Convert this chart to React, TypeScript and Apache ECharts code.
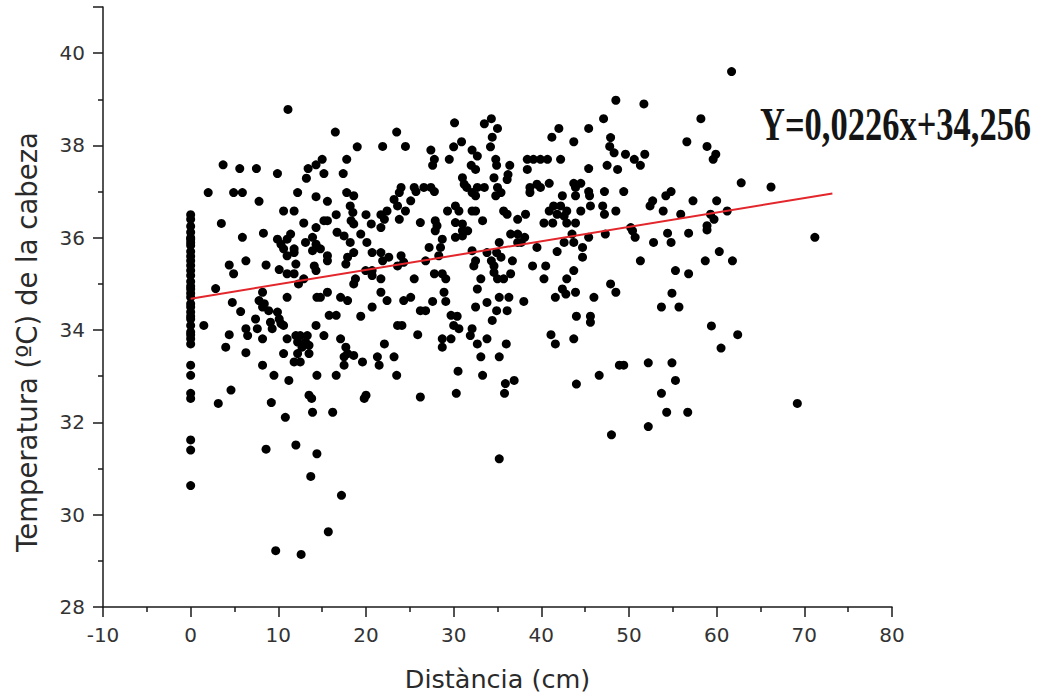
import React, { useEffect, useRef } from "react";
import * as echarts from "echarts";

// Temperatures recorded at distance 0 cm
const tempsAtZero: number[] = [
  36.5, 36.4, 36.25, 36.12, 36.0, 35.97, 35.9, 35.83, 35.7, 35.6, 35.5, 35.4, 35.29, 35.18, 35.05,
  34.95, 34.89, 34.8, 34.71, 34.57, 34.5, 34.39, 34.3, 34.24, 34.1, 33.96, 33.9, 33.81, 33.7,
  33.24, 33.02, 32.63, 32.52, 31.62, 31.4, 30.63,
];

// [distance, temperature] pairs by distance band
const band0to10: [number, number][] = [
  [1.5, 34.1], [2.0, 36.98], [2.85, 34.9], [3.15, 32.41], [3.5, 36.31], [3.7, 37.58], [4.0, 33.63],
  [4.4, 35.41], [4.4, 33.9], [4.6, 32.7], [4.75, 34.6], [4.9, 36.98], [4.9, 35.22], [5.6, 37.5],
  [5.7, 34.4], [5.9, 36.98], [5.9, 36.01], [6.3, 35.5], [6.3, 34.03], [6.3, 33.51], [6.5, 33.88],
  [7.4, 34.24], [7.5, 37.5], [7.6, 34.03], [7.8, 36.79], [7.8, 34.64], [8.2, 34.82], [8.2, 34.5],
  [8.2, 33.81], [8.2, 33.24], [8.3, 36.1], [8.4, 34.57], [8.6, 35.41], [8.6, 31.42], [8.9, 34.42],
  [9.1, 34.17], [9.2, 32.43], [9.3, 34.03], [9.5, 33.02], [9.7, 29.22], [9.9, 37.39], [9.9, 35.97],
  [9.9, 34.39],
];

const band10to20: [number, number][] = [
  [10.1, 35.31], [10.1, 34.24], [10.3, 35.86], [10.3, 34.14], [10.6, 36.58], [10.6, 35.76],
  [10.6, 34.1], [10.6, 33.49], [10.8, 32.11], [11.0, 35.97], [11.0, 35.61], [11.0, 35.22],
  [11.0, 34.71], [11.0, 33.81], [11.1, 38.78], [11.2, 32.91], [11.4, 36.08], [11.8, 36.58],
  [11.8, 35.76], [11.8, 35.68], [11.8, 35.22], [11.8, 33.31], [12.0, 35.43], [12.0, 33.88],
  [12.0, 31.51], [12.2, 36.98], [12.2, 33.74], [12.2, 33.49], [12.3, 35.0], [12.5, 33.88],
  [12.5, 33.31], [12.6, 29.14], [12.7, 33.63], [12.9, 36.32], [12.9, 35.11], [13.1, 35.9],
  [13.1, 33.74], [13.2, 37.29], [13.3, 33.88], [13.4, 37.5], [13.5, 33.67], [13.5, 33.49],
  [13.5, 32.59], [13.7, 30.83], [13.8, 32.52], [13.9, 36.01], [13.9, 35.72], [13.9, 32.22],
  [14.1, 35.39], [14.3, 37.58], [14.3, 36.89], [14.3, 36.22], [14.3, 35.86], [14.3, 35.29],
  [14.3, 34.1], [14.4, 34.71], [14.4, 33.02], [14.4, 31.32], [14.8, 35.76], [14.8, 34.71],
  [15.0, 37.7], [15.2, 37.39], [15.2, 36.37], [15.2, 33.88], [15.6, 36.37], [15.6, 36.79],
  [15.6, 35.61], [15.6, 35.5], [15.6, 34.82], [15.7, 29.63], [15.8, 34.32], [16.2, 32.22],
  [16.5, 38.29], [16.6, 36.5], [16.6, 34.32], [16.6, 33.02], [16.7, 36.12], [17.1, 34.71],
  [17.1, 33.81], [17.2, 30.42], [17.4, 37.39], [17.5, 36.04], [17.5, 33.42], [17.5, 33.24],
  [17.7, 35.43], [17.7, 33.63], [17.8, 37.7], [17.8, 36.98], [17.9, 35.58], [17.9, 34.64],
  [17.9, 33.49], [18.2, 36.69], [18.2, 35.9], [18.3, 36.37], [18.5, 36.55], [18.6, 36.91],
  [18.6, 36.3], [18.6, 35.68], [18.6, 35.0], [18.6, 33.45], [18.8, 35.11], [19.0, 37.97],
  [19.4, 36.08], [19.4, 34.3], [19.6, 33.31], [19.8, 32.52], [19.96, 35.29],
];

const band20to30: [number, number][] = [
  [20.0, 36.5], [20.0, 32.59], [20.1, 35.9], [20.6, 36.3], [20.7, 35.68], [20.7, 35.29],
  [20.7, 35.18], [20.7, 34.5], [21.3, 33.42], [21.5, 33.24], [21.7, 36.5], [21.7, 36.22],
  [21.7, 35.68], [21.7, 35.11], [21.7, 34.82], [21.9, 37.98], [21.9, 35.5], [22.1, 36.4],
  [22.1, 33.7], [22.4, 36.58], [22.4, 34.64], [22.6, 35.58], [23.2, 36.83], [23.2, 33.42],
  [23.5, 38.29], [23.5, 33.02], [23.6, 36.69], [23.6, 35.39], [23.6, 34.1], [23.8, 36.98],
  [23.8, 36.4], [24.0, 37.09], [24.0, 35.61], [24.1, 34.1], [24.3, 35.47], [24.3, 34.64],
  [24.5, 37.98], [24.5, 36.58], [25.1, 36.8], [25.1, 34.71], [25.5, 37.09], [25.5, 35.11],
  [25.7, 37.0], [25.9, 33.9], [26.2, 36.33], [26.2, 34.42], [26.2, 32.55], [26.6, 37.09],
  [26.8, 35.5], [26.8, 34.42], [27.2, 35.79], [27.4, 37.9], [27.4, 37.09], [27.6, 37.57],
  [27.6, 34.62], [27.8, 37.7], [27.8, 37.0], [27.8, 35.22], [27.9, 36.37], [27.9, 36.15],
  [28.1, 36.26], [28.3, 35.61], [28.5, 35.79], [28.7, 35.97], [28.7, 35.22], [28.7, 33.81],
  [28.7, 33.63], [28.9, 34.82], [29.1, 35.11], [29.1, 34.62], [29.3, 36.58], [29.5, 37.7],
  [29.7, 34.32], [29.7, 33.81],
];

const band30to40: [number, number][] = [
  [30.0, 37.97], [30.0, 34.1], [30.1, 38.49], [30.2, 36.69], [30.2, 36.33], [30.2, 36.01],
  [30.3, 32.63], [30.4, 34.3], [30.5, 33.11], [30.6, 36.58], [30.6, 34.03], [30.9, 38.08],
  [31.0, 37.3], [31.0, 36.3], [31.0, 36.04], [31.0, 36.15], [31.2, 37.16], [31.5, 37.09],
  [31.6, 36.15], [31.9, 33.88], [32.0, 37.57], [32.1, 37.9], [32.1, 36.98], [32.1, 36.58],
  [32.1, 35.72], [32.1, 34.03], [32.3, 35.39], [32.5, 37.48], [32.5, 36.91], [32.5, 36.58],
  [32.5, 35.5], [32.5, 34.5], [32.7, 37.77], [32.7, 37.09], [32.7, 34.89], [32.7, 33.7],
  [33.1, 35.11], [33.1, 33.42], [33.3, 36.37], [33.3, 33.02], [33.5, 38.47], [33.5, 37.09],
  [33.8, 35.68], [33.8, 34.6], [33.8, 33.81], [34.2, 37.97], [34.3, 38.58], [34.3, 35.5],
  [34.4, 38.18], [34.4, 34.21], [34.6, 37.3], [34.6, 35.39], [34.6, 35.25], [34.8, 37.7],
  [34.8, 36.91], [34.9, 37.57], [34.9, 35.68], [34.9, 34.42], [35.0, 38.37], [35.0, 37.09],
  [35.0, 35.11], [35.2, 35.9], [35.2, 34.71], [35.2, 33.42], [35.2, 31.21], [35.4, 36.98],
  [35.4, 35.58], [35.7, 36.58], [35.7, 35.11], [35.8, 32.63], [35.9, 32.84], [36.0, 33.7],
  [36.1, 37.26], [36.1, 36.51], [36.1, 34.42], [36.2, 37.37], [36.3, 34.71], [36.4, 37.57],
  [36.5, 36.08], [36.5, 35.22], [36.7, 35.5], [36.9, 32.91], [37.3, 36.4], [37.3, 36.08],
  [37.3, 35.9], [37.7, 35.9], [38.0, 34.62], [38.1, 36.01], [38.2, 36.51], [38.4, 37.7],
  [38.4, 37.48], [38.7, 37.09], [38.7, 36.98], [39.0, 35.39], [39.1, 37.7], [39.5, 37.16],
  [39.5, 35.79], [39.9, 37.7], [39.9, 37.09],
];

const band40to50: [number, number][] = [
  [40.3, 36.32], [40.3, 35.11], [40.5, 35.39], [40.7, 37.7], [40.9, 37.18], [40.9, 36.58],
  [41.1, 33.9], [41.2, 38.18], [41.3, 36.32], [41.4, 36.69], [41.6, 34.71], [41.6, 33.7],
  [41.8, 36.51], [41.8, 35.7], [42.0, 38.37], [42.2, 37.7], [42.2, 36.69], [42.4, 36.91],
  [42.4, 34.89], [42.6, 36.47], [42.6, 35.9], [42.8, 34.78], [42.9, 36.58], [42.9, 36.32],
  [42.9, 35.11], [43.5, 36.08], [43.7, 38.08], [43.7, 37.18], [43.7, 35.9], [43.7, 35.29],
  [43.7, 33.81], [43.9, 37.09], [43.9, 36.91], [43.9, 36.32], [43.9, 34.82], [44.0, 34.3],
  [44.0, 32.83], [44.5, 37.18], [44.5, 36.58], [44.7, 35.79], [44.7, 35.58], [45.4, 38.37],
  [45.4, 37.5], [45.4, 37.0], [45.4, 36.01], [45.5, 36.91], [45.6, 36.69], [45.6, 34.3],
  [45.6, 34.17], [46.0, 34.71], [46.6, 33.02], [47.0, 36.69], [47.1, 38.58], [47.2, 37.0],
  [47.2, 36.51], [47.3, 36.08], [47.5, 37.57], [47.8, 37.98], [47.9, 38.17], [47.9, 35.0],
  [48.0, 31.73], [48.3, 37.84], [48.5, 38.98], [48.5, 36.58], [48.5, 34.82], [48.7, 37.48],
  [48.9, 33.24], [49.4, 37.0], [49.4, 33.24], [49.6, 37.81],
];

const band50plus: [number, number][] = [
  [50.2, 36.22], [50.4, 36.15], [50.6, 37.7], [50.7, 36.01], [51.3, 37.57], [51.3, 35.5],
  [51.7, 38.9], [51.8, 37.81], [52.2, 33.29], [52.2, 31.91], [52.4, 36.69], [52.7, 36.8],
  [52.8, 35.9], [53.7, 34.5], [53.7, 32.63], [53.9, 36.58], [54.2, 36.91], [54.3, 32.22],
  [54.4, 36.1], [54.8, 37.0], [54.8, 35.9], [54.9, 34.8], [54.9, 33.29], [55.3, 35.29],
  [55.3, 32.91], [55.7, 34.5], [55.9, 36.51], [56.6, 38.08], [56.7, 32.22], [56.8, 36.1],
  [56.8, 35.22], [57.3, 36.8], [58.2, 38.58], [58.7, 35.5], [58.9, 37.98], [58.9, 36.26],
  [58.9, 36.17], [59.3, 36.51], [59.4, 34.09], [59.6, 37.7], [59.7, 36.4], [59.9, 37.81],
  [60.0, 36.8], [60.3, 35.7], [60.5, 33.61], [61.2, 36.58], [61.7, 39.6], [61.8, 35.5],
  [62.4, 33.9], [62.8, 37.19], [66.2, 37.1], [69.2, 32.41], [71.2, 36.01],
];

// Fitted line as drawn (start and end)
const fitLine: [number, number][] = [
  [0, 34.68],
  [73.2, 36.96],
];

const equationLabel = "Y=0,0226x+34,256";
const xAxisTitle = "Distància (cm)";
const yAxisTitle = "Temperatura (ºC) de la cabeza";

export default function App() {
  const ref = useRef<HTMLDivElement>(null);
  useEffect(() => {
    if (!ref.current) return;
    const chart = echarts.init(ref.current, undefined, { renderer: "svg" });
    const points: [number, number][] = [
      ...tempsAtZero.map((t) => [0, t] as [number, number]),
      ...band0to10,
      ...band10to20,
      ...band20to30,
      ...band30to40,
      ...band40to50,
      ...band50plus,
    ];
    const font = "DejaVu Sans";
    chart.setOption({
      animation: false,
      backgroundColor: "#ffffff",
      grid: { left: 103, right: 153, top: 7, bottom: 88 },
      xAxis: {
        type: "value",
        min: -10,
        max: 80,
        interval: 10,
        name: xAxisTitle,
        nameLocation: "middle",
        nameGap: 59,
        nameTextStyle: { fontFamily: font, fontSize: 25.5, color: "#2a2a2a" },
        axisLine: { show: true, onZero: false, lineStyle: { color: "#1a1a1a", width: 1.5 } },
        axisTick: { show: true, length: 10, lineStyle: { color: "#1a1a1a", width: 1.5 } },
        minorTick: { show: true, splitNumber: 2, length: 5, lineStyle: { color: "#1a1a1a", width: 1.5 } },
        splitLine: { show: false },
        axisLabel: { fontFamily: font, fontSize: 20, color: "#333333", margin: 18 },
      },
      yAxis: {
        type: "value",
        min: 28,
        max: 41,
        interval: 2,
        axisLine: { show: true, onZero: false, lineStyle: { color: "#1a1a1a", width: 1.5 } },
        axisTick: { show: true, length: 10, lineStyle: { color: "#1a1a1a", width: 1.5 } },
        minorTick: { show: true, splitNumber: 2, length: 5, lineStyle: { color: "#1a1a1a", width: 1.5 } },
        splitLine: { show: false },
        axisLabel: { fontFamily: font, fontSize: 20, color: "#333333", margin: 18, showMaxLabel: false },
      },
      graphic: [
        {
          type: "text",
          x: 27,
          y: 342,
          rotation: Math.PI / 2,
          style: {
            text: yAxisTitle,
            fontFamily: font,
            fontSize: 27.5,
            fill: "#2a2a2a",
            align: "center",
            verticalAlign: "middle",
          },
        },
        {
          type: "text",
          x: 760,
          y: 102,
          scaleX: 0.75,
          style: {
            text: equationLabel,
            fontFamily: "Liberation Serif",
            fontWeight: "bold",
            fontSize: 46,
            fill: "#151515",
            align: "left",
            verticalAlign: "top",
          },
        },
      ],
      series: [
        {
          type: "scatter",
          data: points,
          symbol: "circle",
          symbolSize: 9,
          itemStyle: { color: "#000000", opacity: 1 },
          z: 3,
        },
        {
          type: "line",
          data: fitLine,
          symbol: "none",
          lineStyle: { color: "#e3262b", width: 2 },
          z: 4,
        },
      ],
    });
    return () => chart.dispose();
  }, []);
  return (
    <div
      ref={ref}
      style={{ position: "fixed", left: 0, top: 0, width: 1045, height: 697 }}
    />
  );
}
